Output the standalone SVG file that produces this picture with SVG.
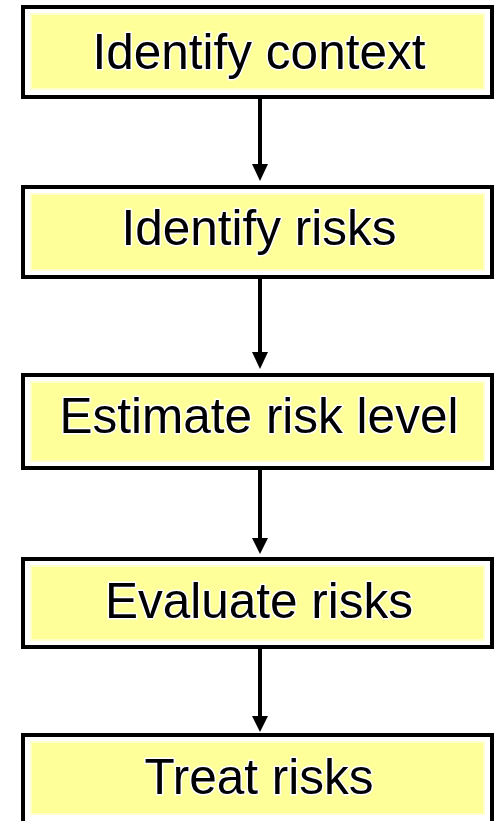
<svg xmlns="http://www.w3.org/2000/svg" width="494" height="821" viewBox="0 0 494 821">
  <style>
    .frame { fill: #ffffff; stroke: #000000; stroke-width: 4; }
    .fill { fill: #ffff99; stroke: #ffffcc; stroke-width: 2; }
    .label { font-family: "Liberation Sans", Arial, sans-serif; font-size: 49.5px; fill: #000000; text-anchor: middle; stroke: #ffffff; stroke-width: 3; paint-order: stroke; stroke-linejoin: round; }
    .link { stroke: #000000; stroke-width: 4; fill: none; }
    .head { fill: #000000; }
  </style>

  <g id="connectors">
    <line class="link" x1="260" y1="99" x2="260" y2="168"/>
    <polygon class="head" points="252,164 268,164 260,181"/>
    <line class="link" x1="260" y1="279" x2="260" y2="356"/>
    <polygon class="head" points="252,352 268,352 260,369"/>
    <line class="link" x1="260" y1="470" x2="260" y2="541"/>
    <polygon class="head" points="252,538 268,538 260,554"/>
    <line class="link" x1="260" y1="649" x2="260" y2="720"/>
    <polygon class="head" points="252,716 268,716 260,732"/>
  </g>

  <g id="identify-context">
    <rect class="frame" x="23" y="7" width="469" height="90"/>
    <rect class="fill" x="31" y="14" width="453" height="75"/>
    <text class="label" x="259" y="69">Identify context</text>
  </g>

  <g id="identify-risks">
    <rect class="frame" x="23" y="187" width="469" height="90"/>
    <rect class="fill" x="31" y="194" width="453" height="76"/>
    <text class="label" x="259" y="245">Identify risks</text>
  </g>

  <g id="estimate-risk-level">
    <rect class="frame" x="23" y="375" width="469" height="93"/>
    <rect class="fill" x="31" y="382" width="453" height="79"/>
    <text class="label" x="259" y="433">Estimate risk level</text>
  </g>

  <g id="evaluate-risks">
    <rect class="frame" x="23" y="559" width="469" height="88"/>
    <rect class="fill" x="31" y="566" width="453" height="74"/>
    <text class="label" x="259" y="618">Evaluate risks</text>
  </g>

  <g id="treat-risks">
    <rect class="frame" x="23" y="735" width="469" height="100"/>
    <rect class="fill" x="31" y="742" width="453" height="72"/>
    <text class="label" x="259" y="794">Treat risks</text>
  </g>
</svg>
